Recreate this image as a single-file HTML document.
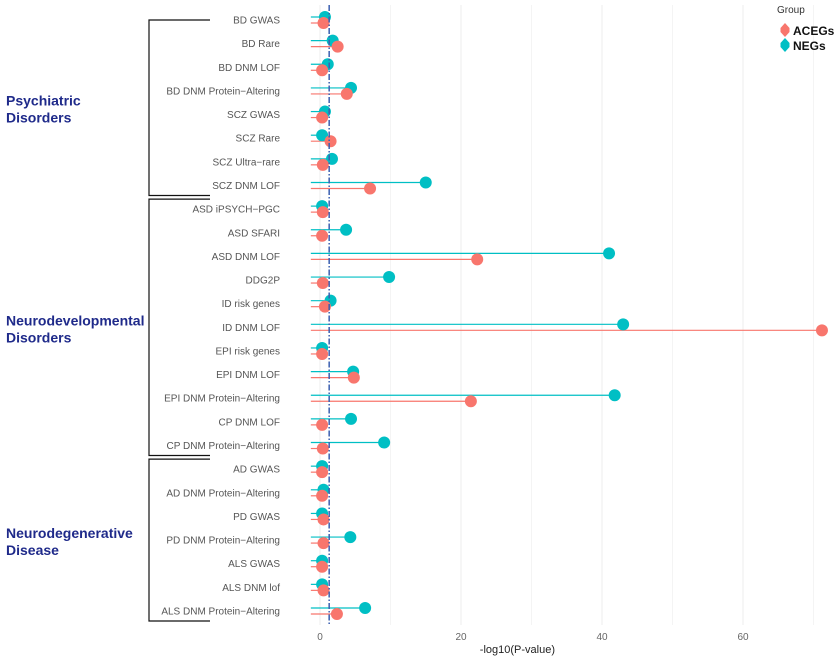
<!DOCTYPE html>
<html><head><meta charset="utf-8"><style>
body{margin:0;background:#fff;font-family:"Liberation Sans",Arial,sans-serif;}
svg{display:block}
</style></head><body>
<svg id="chart" width="834" height="656" xmlns="http://www.w3.org/2000/svg"></svg>
<script>
const categories=["BD GWAS","BD Rare","BD DNM LOF","BD DNM Protein\u2212Altering","SCZ GWAS","SCZ Rare","SCZ Ultra\u2212rare","SCZ DNM LOF","ASD iPSYCH\u2212PGC","ASD SFARI","ASD DNM LOF","DDG2P","ID risk genes","ID DNM LOF","EPI risk genes","EPI DNM LOF","EPI DNM Protein\u2212Altering","CP DNM LOF","CP DNM Protein\u2212Altering","AD GWAS","AD DNM Protein\u2212Altering","PD GWAS","PD DNM Protein\u2212Altering","ALS GWAS","ALS DNM lof","ALS DNM Protein\u2212Altering"];
const negsValues=[0.7,1.8,1.1,4.4,0.7,0.3,1.7,15,0.3,3.7,41,9.8,1.5,43,0.3,4.7,41.8,4.4,9.1,0.3,0.5,0.3,4.3,0.3,0.3,6.4];
const acegsValues=[0.5,2.5,0.3,3.8,0.3,1.5,0.4,7.1,0.4,0.3,22.3,0.4,0.7,71.2,0.3,4.8,21.4,0.3,0.4,0.3,0.3,0.5,0.5,0.3,0.5,2.4];
const xTicks=[0,20,40,60];
const xMinor=[10,30,50,70];
const groups=[["Psychiatric","Disorders"],["Neurodevelopmental","Disorders"],["Neurodegenerative","Disease"]];
const groupRanges=[[0,7],[8,18],[19,25]];
const threshold=1.301;
const segStart=-1.3;

const svg=document.getElementById('chart');
const NS="http://www.w3.org/2000/svg";
const x=v=>320+v*7.05;
const y=i=>20+i*23.64;
function mk(tag,attrs,parent){const e=document.createElementNS(NS,tag);for(const k in attrs)e.setAttribute(k,attrs[k]);(parent||svg).appendChild(e);return e;}

xMinor.forEach(t=>{const l=mk('line',{x1:x(t),x2:x(t),y1:5,y2:625,stroke:'#f4f4f4','stroke-width':1});

});
xTicks.forEach(t=>{const l=mk('line',{x1:x(t),x2:x(t),y1:5,y2:625,stroke:'#ececec','stroke-width':1});


const tx=mk('text',{x:x(t),y:640,'text-anchor':'middle','font-size':10,fill:'#666'});tx.textContent=t;

});

categories.forEach((c,i)=>{
 const t=mk('text',{x:280,y:y(i)+3.5,'text-anchor':'end','font-size':10,fill:'#555'});t.textContent=c;
 
 
 const ln=mk('line',{x1:x(segStart),x2:x(negsValues[i]),y1:y(i)-3,y2:y(i)-3,stroke:'#00BFC4','stroke-width':1.2});
 
 
 const lr=mk('line',{x1:x(segStart),x2:x(acegsValues[i]),y1:y(i)+3,y2:y(i)+3,stroke:'#F8766D','stroke-width':1.2});
 
 
});
categories.forEach((c,i)=>{
 const dn=mk('circle',{cx:x(negsValues[i]),cy:y(i)-3,r:6,fill:'#00BFC4'});
 
 
 const dr=mk('circle',{cx:x(acegsValues[i]),cy:y(i)+3,r:6,fill:'#F8766D'});
 
 
});
const th=mk('line',{x1:x(threshold),x2:x(threshold),y1:5,y2:625,stroke:'#3a5fb0','stroke-width':1.5,'stroke-dasharray':'6,2,1.5,2'});



groupRanges.forEach((r,g)=>{
 const top=y(r[0])-(g===0?0:10), bot=y(r[1])+10;
 const p=mk('path',{d:`M210 ${top} H149 V${bot} H210`,fill:'none',stroke:'#111','stroke-width':1.2});
 
 
 const mid=(top+bot)/2;
 groups[g].forEach((w,k)=>{const t=mk('text',{x:6,y:mid-2+k*17,'font-size':14,'font-weight':'bold',fill:'#1f2a8a'});t.textContent=w;
 
 });
});

const xt=mk('text',{x:x(28),y:653,'text-anchor':'middle','font-size':11,fill:'#222'});xt.textContent='-log10(P-value)';



const lg=mk('text',{x:777,y:13,'font-size':10,fill:'#333'});lg.textContent='Group';


[['ACEGs','#F8766D',31],['NEGs','#00BFC4',46]].forEach(([n,c,yy])=>{
 const d=mk('path',{d:`M785 ${yy-8} L789.5 ${yy-3} L789.5 ${yy+1} L785 ${yy+6} L780.5 ${yy+1} L780.5 ${yy-3}Z`,fill:c});
 
 
 const t=mk('text',{x:793,y:yy+4,'font-size':12,'font-weight':'bold',fill:'#111'});t.textContent=n;
 
 
});
</script>
</body></html>
